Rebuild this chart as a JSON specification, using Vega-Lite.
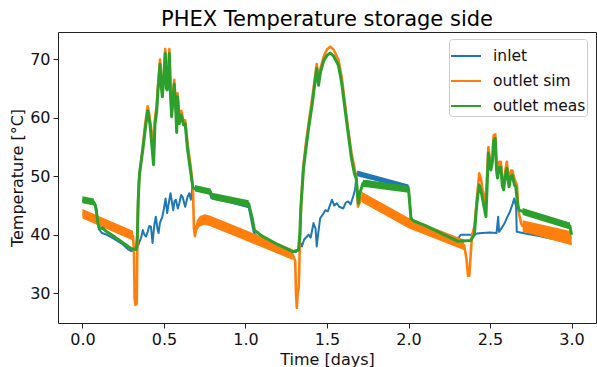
{
  "$schema": "https://vega.github.io/schema/vega-lite/v6.json",
  "width": 538,
  "height": 291,
  "autosize": {"type": "none"},
  "padding": {"left": 58, "top": 32, "right": 1, "bottom": 44},
  "background": "white",
  "title": {"text": "PHEX Temperature storage side", "fontSize": 21, "font": "DejaVu Sans", "fontWeight": "normal", "color": "black", "anchor": "middle", "frame": "group", "offset": 2},
  "datasets": {
    "lines": [
      {"s":"inlet","t":0.000,"v":45.7},{"s":"inlet","t":0.070,"v":45.4},{"s":"inlet","t":0.085,"v":44.5},{"s":"inlet","t":0.100,"v":41.0},{"s":"inlet","t":0.120,"v":40.3},{"s":"inlet","t":0.150,"v":40.0},{"s":"inlet","t":0.200,"v":39.2},{"s":"inlet","t":0.250,"v":38.3},{"s":"inlet","t":0.280,"v":37.5},{"s":"inlet","t":0.300,"v":37.2},{"s":"inlet","t":0.320,"v":37.3},{"s":"inlet","t":0.335,"v":37.6},{"s":"inlet","t":0.350,"v":38.8},{"s":"inlet","t":0.360,"v":39.5},{"s":"inlet","t":0.370,"v":40.8},{"s":"inlet","t":0.380,"v":40.0},{"s":"inlet","t":0.390,"v":39.7},{"s":"inlet","t":0.400,"v":40.5},{"s":"inlet","t":0.410,"v":41.5},{"s":"inlet","t":0.420,"v":41.4},{"s":"inlet","t":0.430,"v":38.6},{"s":"inlet","t":0.440,"v":41.5},{"s":"inlet","t":0.450,"v":43.1},{"s":"inlet","t":0.460,"v":41.0},{"s":"inlet","t":0.467,"v":40.3},{"s":"inlet","t":0.475,"v":42.0},{"s":"inlet","t":0.490,"v":43.1},{"s":"inlet","t":0.500,"v":44.5},{"s":"inlet","t":0.510,"v":46.2},{"s":"inlet","t":0.520,"v":43.7},{"s":"inlet","t":0.530,"v":45.5},{"s":"inlet","t":0.540,"v":47.1},{"s":"inlet","t":0.557,"v":44.2},{"s":"inlet","t":0.565,"v":45.8},{"s":"inlet","t":0.573,"v":46.0},{"s":"inlet","t":0.585,"v":44.5},{"s":"inlet","t":0.594,"v":45.4},{"s":"inlet","t":0.605,"v":46.8},{"s":"inlet","t":0.614,"v":46.5},{"s":"inlet","t":0.630,"v":44.8},{"s":"inlet","t":0.645,"v":46.5},{"s":"inlet","t":0.655,"v":47.1},{"s":"inlet","t":0.665,"v":46.0},{"s":"inlet","t":0.675,"v":48.2},{"s":"inlet","t":0.690,"v":47.8},{"s":"inlet","t":0.720,"v":47.6},{"s":"inlet","t":0.780,"v":47.2},{"s":"inlet","t":0.790,"v":46.3},{"s":"inlet","t":0.800,"v":46.2},{"s":"inlet","t":0.900,"v":45.6},{"s":"inlet","t":1.020,"v":44.7},{"s":"inlet","t":1.050,"v":40.5},{"s":"inlet","t":1.060,"v":40.0},{"s":"inlet","t":1.100,"v":39.3},{"s":"inlet","t":1.200,"v":38.1},{"s":"inlet","t":1.280,"v":37.0},{"s":"inlet","t":1.310,"v":37.1},{"s":"inlet","t":1.325,"v":37.5},{"s":"inlet","t":1.340,"v":38.5},{"s":"inlet","t":1.346,"v":38.0},{"s":"inlet","t":1.360,"v":39.2},{"s":"inlet","t":1.387,"v":40.0},{"s":"inlet","t":1.400,"v":39.5},{"s":"inlet","t":1.417,"v":42.0},{"s":"inlet","t":1.430,"v":41.0},{"s":"inlet","t":1.437,"v":38.0},{"s":"inlet","t":1.445,"v":40.0},{"s":"inlet","t":1.458,"v":42.8},{"s":"inlet","t":1.475,"v":43.5},{"s":"inlet","t":1.490,"v":44.2},{"s":"inlet","t":1.505,"v":44.0},{"s":"inlet","t":1.530,"v":46.0},{"s":"inlet","t":1.545,"v":45.0},{"s":"inlet","t":1.560,"v":45.4},{"s":"inlet","t":1.575,"v":44.8},{"s":"inlet","t":1.600,"v":44.5},{"s":"inlet","t":1.615,"v":45.5},{"s":"inlet","t":1.630,"v":45.7},{"s":"inlet","t":1.645,"v":45.2},{"s":"inlet","t":1.660,"v":46.5},{"s":"inlet","t":1.672,"v":47.7},{"s":"inlet","t":1.682,"v":50.5},{"s":"inlet","t":1.800,"v":49.5},{"s":"inlet","t":1.900,"v":48.8},{"s":"inlet","t":2.000,"v":48.2},{"s":"inlet","t":2.015,"v":43.0},{"s":"inlet","t":2.030,"v":42.3},{"s":"inlet","t":2.100,"v":41.3},{"s":"inlet","t":2.200,"v":40.2},{"s":"inlet","t":2.290,"v":39.3},{"s":"inlet","t":2.310,"v":39.6},{"s":"inlet","t":2.320,"v":40.0},{"s":"inlet","t":2.400,"v":40.0},{"s":"inlet","t":2.420,"v":40.2},{"s":"inlet","t":2.450,"v":40.3},{"s":"inlet","t":2.500,"v":40.4},{"s":"inlet","t":2.540,"v":40.3},{"s":"inlet","t":2.550,"v":43.1},{"s":"inlet","t":2.555,"v":40.5},{"s":"inlet","t":2.577,"v":41.4},{"s":"inlet","t":2.590,"v":42.0},{"s":"inlet","t":2.607,"v":43.1},{"s":"inlet","t":2.620,"v":43.8},{"s":"inlet","t":2.640,"v":45.4},{"s":"inlet","t":2.648,"v":46.2},{"s":"inlet","t":2.660,"v":44.8},{"s":"inlet","t":2.664,"v":40.5},{"s":"inlet","t":2.700,"v":40.3},{"s":"inlet","t":2.800,"v":39.8},{"s":"inlet","t":2.900,"v":39.2},{"s":"inlet","t":3.000,"v":38.5},

      {"s":"outlet sim","t":0.000,"v":43.6},{"s":"outlet sim","t":0.310,"v":39.8},{"s":"outlet sim","t":0.316,"v":37.0},{"s":"outlet sim","t":0.320,"v":29.0},{"s":"outlet sim","t":0.325,"v":28.0},{"s":"outlet sim","t":0.330,"v":30.5},{"s":"outlet sim","t":0.333,"v":28.2},{"s":"outlet sim","t":0.336,"v":36.5},{"s":"outlet sim","t":0.340,"v":44.0},{"s":"outlet sim","t":0.346,"v":49.0},{"s":"outlet sim","t":0.355,"v":51.5},{"s":"outlet sim","t":0.370,"v":55.0},{"s":"outlet sim","t":0.385,"v":59.0},{"s":"outlet sim","t":0.400,"v":62.0},{"s":"outlet sim","t":0.408,"v":61.0},{"s":"outlet sim","t":0.415,"v":59.5},{"s":"outlet sim","t":0.425,"v":57.5},{"s":"outlet sim","t":0.436,"v":53.5},{"s":"outlet sim","t":0.445,"v":60.0},{"s":"outlet sim","t":0.455,"v":62.0},{"s":"outlet sim","t":0.465,"v":66.0},{"s":"outlet sim","t":0.476,"v":70.0},{"s":"outlet sim","t":0.483,"v":66.5},{"s":"outlet sim","t":0.490,"v":64.5},{"s":"outlet sim","t":0.500,"v":68.0},{"s":"outlet sim","t":0.508,"v":71.8},{"s":"outlet sim","t":0.515,"v":66.0},{"s":"outlet sim","t":0.520,"v":65.5},{"s":"outlet sim","t":0.527,"v":68.0},{"s":"outlet sim","t":0.533,"v":71.8},{"s":"outlet sim","t":0.540,"v":65.0},{"s":"outlet sim","t":0.547,"v":61.0},{"s":"outlet sim","t":0.555,"v":64.0},{"s":"outlet sim","t":0.563,"v":66.5},{"s":"outlet sim","t":0.573,"v":62.0},{"s":"outlet sim","t":0.578,"v":58.3},{"s":"outlet sim","t":0.583,"v":64.2},{"s":"outlet sim","t":0.594,"v":60.0},{"s":"outlet sim","t":0.606,"v":61.2},{"s":"outlet sim","t":0.620,"v":59.5},{"s":"outlet sim","t":0.630,"v":59.6},{"s":"outlet sim","t":0.645,"v":55.5},{"s":"outlet sim","t":0.665,"v":51.5},{"s":"outlet sim","t":0.678,"v":47.5},{"s":"outlet sim","t":0.684,"v":41.0},{"s":"outlet sim","t":0.690,"v":39.8},{"s":"outlet sim","t":0.700,"v":41.5},{"s":"outlet sim","t":0.720,"v":42.3},{"s":"outlet sim","t":0.750,"v":42.6},{"s":"outlet sim","t":0.780,"v":42.4},{"s":"outlet sim","t":1.000,"v":39.9},{"s":"outlet sim","t":1.290,"v":36.6},{"s":"outlet sim","t":1.305,"v":35.5},{"s":"outlet sim","t":1.310,"v":30.0},{"s":"outlet sim","t":1.315,"v":27.5},{"s":"outlet sim","t":1.320,"v":30.0},{"s":"outlet sim","t":1.327,"v":31.0},{"s":"outlet sim","t":1.333,"v":38.0},{"s":"outlet sim","t":1.340,"v":44.0},{"s":"outlet sim","t":1.348,"v":49.0},{"s":"outlet sim","t":1.356,"v":52.0},{"s":"outlet sim","t":1.370,"v":55.5},{"s":"outlet sim","t":1.387,"v":59.0},{"s":"outlet sim","t":1.410,"v":63.5},{"s":"outlet sim","t":1.437,"v":69.2},{"s":"outlet sim","t":1.448,"v":66.5},{"s":"outlet sim","t":1.460,"v":68.5},{"s":"outlet sim","t":1.480,"v":70.5},{"s":"outlet sim","t":1.500,"v":71.7},{"s":"outlet sim","t":1.520,"v":72.2},{"s":"outlet sim","t":1.540,"v":71.7},{"s":"outlet sim","t":1.570,"v":70.0},{"s":"outlet sim","t":1.590,"v":67.0},{"s":"outlet sim","t":1.610,"v":62.5},{"s":"outlet sim","t":1.630,"v":58.0},{"s":"outlet sim","t":1.650,"v":54.0},{"s":"outlet sim","t":1.668,"v":51.5},{"s":"outlet sim","t":1.680,"v":49.5},{"s":"outlet sim","t":1.690,"v":44.8},{"s":"outlet sim","t":1.700,"v":45.5},{"s":"outlet sim","t":1.710,"v":46.5},{"s":"outlet sim","t":2.000,"v":42.0},{"s":"outlet sim","t":2.300,"v":38.7},{"s":"outlet sim","t":2.340,"v":38.3},{"s":"outlet sim","t":2.355,"v":36.0},{"s":"outlet sim","t":2.365,"v":33.0},{"s":"outlet sim","t":2.373,"v":33.0},{"s":"outlet sim","t":2.380,"v":36.0},{"s":"outlet sim","t":2.390,"v":40.0},{"s":"outlet sim","t":2.405,"v":41.5},{"s":"outlet sim","t":2.420,"v":46.5},{"s":"outlet sim","t":2.434,"v":50.5},{"s":"outlet sim","t":2.445,"v":49.5},{"s":"outlet sim","t":2.455,"v":47.5},{"s":"outlet sim","t":2.470,"v":45.5},{"s":"outlet sim","t":2.480,"v":49.0},{"s":"outlet sim","t":2.490,"v":55.0},{"s":"outlet sim","t":2.500,"v":52.5},{"s":"outlet sim","t":2.505,"v":51.5},{"s":"outlet sim","t":2.515,"v":53.0},{"s":"outlet sim","t":2.522,"v":57.0},{"s":"outlet sim","t":2.532,"v":57.2},{"s":"outlet sim","t":2.540,"v":52.0},{"s":"outlet sim","t":2.546,"v":50.5},{"s":"outlet sim","t":2.556,"v":52.5},{"s":"outlet sim","t":2.566,"v":52.5},{"s":"outlet sim","t":2.575,"v":49.5},{"s":"outlet sim","t":2.583,"v":48.5},{"s":"outlet sim","t":2.594,"v":51.0},{"s":"outlet sim","t":2.603,"v":52.5},{"s":"outlet sim","t":2.610,"v":50.5},{"s":"outlet sim","t":2.617,"v":49.0},{"s":"outlet sim","t":2.628,"v":51.0},{"s":"outlet sim","t":2.637,"v":51.0},{"s":"outlet sim","t":2.650,"v":49.5},{"s":"outlet sim","t":2.665,"v":48.5},{"s":"outlet sim","t":2.675,"v":44.0},{"s":"outlet sim","t":2.690,"v":42.0},{"s":"outlet sim","t":2.700,"v":41.5},{"s":"outlet sim","t":3.000,"v":39.4},

      {"s":"outlet meas","t":0.000,"v":46.0},{"s":"outlet meas","t":0.070,"v":45.6},{"s":"outlet meas","t":0.080,"v":45.0},{"s":"outlet meas","t":0.095,"v":42.0},{"s":"outlet meas","t":0.105,"v":41.0},{"s":"outlet meas","t":0.120,"v":41.2},{"s":"outlet meas","t":0.150,"v":40.5},{"s":"outlet meas","t":0.200,"v":39.6},{"s":"outlet meas","t":0.250,"v":38.6},{"s":"outlet meas","t":0.300,"v":37.6},{"s":"outlet meas","t":0.330,"v":37.5},{"s":"outlet meas","t":0.337,"v":40.0},{"s":"outlet meas","t":0.342,"v":46.0},{"s":"outlet meas","t":0.350,"v":50.5},{"s":"outlet meas","t":0.370,"v":54.5},{"s":"outlet meas","t":0.385,"v":58.0},{"s":"outlet meas","t":0.400,"v":61.2},{"s":"outlet meas","t":0.408,"v":60.0},{"s":"outlet meas","t":0.415,"v":58.7},{"s":"outlet meas","t":0.425,"v":55.5},{"s":"outlet meas","t":0.436,"v":52.0},{"s":"outlet meas","t":0.445,"v":59.0},{"s":"outlet meas","t":0.455,"v":61.0},{"s":"outlet meas","t":0.465,"v":65.5},{"s":"outlet meas","t":0.476,"v":69.2},{"s":"outlet meas","t":0.483,"v":65.5},{"s":"outlet meas","t":0.490,"v":63.6},{"s":"outlet meas","t":0.500,"v":67.5},{"s":"outlet meas","t":0.508,"v":71.0},{"s":"outlet meas","t":0.515,"v":65.0},{"s":"outlet meas","t":0.520,"v":64.8},{"s":"outlet meas","t":0.527,"v":67.5},{"s":"outlet meas","t":0.533,"v":71.0},{"s":"outlet meas","t":0.540,"v":64.0},{"s":"outlet meas","t":0.547,"v":60.2},{"s":"outlet meas","t":0.555,"v":63.0},{"s":"outlet meas","t":0.563,"v":65.8},{"s":"outlet meas","t":0.573,"v":61.0},{"s":"outlet meas","t":0.578,"v":57.5},{"s":"outlet meas","t":0.583,"v":63.6},{"s":"outlet meas","t":0.594,"v":59.0},{"s":"outlet meas","t":0.606,"v":60.5},{"s":"outlet meas","t":0.620,"v":58.8},{"s":"outlet meas","t":0.630,"v":59.0},{"s":"outlet meas","t":0.645,"v":54.5},{"s":"outlet meas","t":0.665,"v":50.5},{"s":"outlet meas","t":0.678,"v":48.0},{"s":"outlet meas","t":0.720,"v":47.8},{"s":"outlet meas","t":0.785,"v":47.3},{"s":"outlet meas","t":0.795,"v":46.6},{"s":"outlet meas","t":0.820,"v":46.5},{"s":"outlet meas","t":1.020,"v":45.3},{"s":"outlet meas","t":1.040,"v":43.0},{"s":"outlet meas","t":1.055,"v":40.8},{"s":"outlet meas","t":1.100,"v":39.8},{"s":"outlet meas","t":1.200,"v":38.3},{"s":"outlet meas","t":1.290,"v":37.1},{"s":"outlet meas","t":1.325,"v":37.4},{"s":"outlet meas","t":1.333,"v":40.0},{"s":"outlet meas","t":1.340,"v":45.0},{"s":"outlet meas","t":1.348,"v":48.0},{"s":"outlet meas","t":1.356,"v":51.4},{"s":"outlet meas","t":1.370,"v":54.5},{"s":"outlet meas","t":1.387,"v":58.2},{"s":"outlet meas","t":1.410,"v":62.5},{"s":"outlet meas","t":1.437,"v":68.5},{"s":"outlet meas","t":1.448,"v":65.6},{"s":"outlet meas","t":1.460,"v":67.8},{"s":"outlet meas","t":1.480,"v":69.8},{"s":"outlet meas","t":1.500,"v":70.7},{"s":"outlet meas","t":1.520,"v":71.1},{"s":"outlet meas","t":1.540,"v":70.6},{"s":"outlet meas","t":1.570,"v":69.0},{"s":"outlet meas","t":1.590,"v":66.0},{"s":"outlet meas","t":1.610,"v":61.6},{"s":"outlet meas","t":1.630,"v":57.3},{"s":"outlet meas","t":1.650,"v":53.1},{"s":"outlet meas","t":1.668,"v":50.5},{"s":"outlet meas","t":1.680,"v":49.5},{"s":"outlet meas","t":1.692,"v":45.4},{"s":"outlet meas","t":1.700,"v":47.0},{"s":"outlet meas","t":1.720,"v":48.8},{"s":"outlet meas","t":1.743,"v":49.1},{"s":"outlet meas","t":2.000,"v":47.8},{"s":"outlet meas","t":2.015,"v":42.8},{"s":"outlet meas","t":2.030,"v":42.4},{"s":"outlet meas","t":2.100,"v":41.6},{"s":"outlet meas","t":2.300,"v":38.9},{"s":"outlet meas","t":2.380,"v":39.0},{"s":"outlet meas","t":2.404,"v":40.0},{"s":"outlet meas","t":2.415,"v":44.0},{"s":"outlet meas","t":2.424,"v":46.5},{"s":"outlet meas","t":2.434,"v":48.5},{"s":"outlet meas","t":2.445,"v":47.5},{"s":"outlet meas","t":2.455,"v":46.0},{"s":"outlet meas","t":2.475,"v":43.1},{"s":"outlet meas","t":2.490,"v":54.0},{"s":"outlet meas","t":2.505,"v":51.1},{"s":"outlet meas","t":2.515,"v":52.5},{"s":"outlet meas","t":2.522,"v":56.0},{"s":"outlet meas","t":2.532,"v":56.5},{"s":"outlet meas","t":2.540,"v":51.0},{"s":"outlet meas","t":2.546,"v":49.7},{"s":"outlet meas","t":2.556,"v":51.5},{"s":"outlet meas","t":2.566,"v":51.6},{"s":"outlet meas","t":2.575,"v":48.5},{"s":"outlet meas","t":2.583,"v":47.7},{"s":"outlet meas","t":2.594,"v":50.0},{"s":"outlet meas","t":2.603,"v":51.4},{"s":"outlet meas","t":2.610,"v":49.5},{"s":"outlet meas","t":2.617,"v":48.2},{"s":"outlet meas","t":2.628,"v":50.0},{"s":"outlet meas","t":2.637,"v":50.2},{"s":"outlet meas","t":2.650,"v":48.5},{"s":"outlet meas","t":2.658,"v":48.2},{"s":"outlet meas","t":2.670,"v":45.0},{"s":"outlet meas","t":2.679,"v":44.2},{"s":"outlet meas","t":2.700,"v":44.0},{"s":"outlet meas","t":2.990,"v":41.5},{"s":"outlet meas","t":3.000,"v":40.0}
    ],
    "bands": [
      {"s":"inlet","g":"b1","t":1.685,"lo":50.0,"hi":51.0},{"s":"inlet","g":"b1","t":2.000,"lo":47.8,"hi":48.6},
      {"s":"outlet sim","g":"o1","t":0.000,"lo":42.8,"hi":44.4},{"s":"outlet sim","g":"o1","t":0.310,"lo":39.0,"hi":40.7},
      {"s":"outlet sim","g":"o2","t":0.690,"lo":39.2,"hi":40.4},{"s":"outlet sim","g":"o2","t":0.700,"lo":40.6,"hi":42.4},{"s":"outlet sim","g":"o2","t":0.720,"lo":41.4,"hi":43.2},{"s":"outlet sim","g":"o2","t":0.750,"lo":41.7,"hi":43.5},{"s":"outlet sim","g":"o2","t":0.780,"lo":41.5,"hi":43.3},{"s":"outlet sim","g":"o2","t":1.000,"lo":39.0,"hi":40.8},{"s":"outlet sim","g":"o2","t":1.290,"lo":35.7,"hi":37.5},
      {"s":"outlet sim","g":"o3","t":1.710,"lo":45.6,"hi":47.4},{"s":"outlet sim","g":"o3","t":2.000,"lo":41.1,"hi":42.9},{"s":"outlet sim","g":"o3","t":2.300,"lo":37.8,"hi":39.6},{"s":"outlet sim","g":"o3","t":2.340,"lo":37.4,"hi":39.2},
      {"s":"outlet sim","g":"o4","t":2.700,"lo":40.5,"hi":42.5},{"s":"outlet sim","g":"o4","t":3.000,"lo":38.2,"hi":40.6},
      {"s":"outlet meas","g":"g1","t":0.000,"lo":45.4,"hi":46.6},{"s":"outlet meas","g":"g1","t":0.070,"lo":45.0,"hi":46.2},
      {"s":"outlet meas","g":"g3","t":0.690,"lo":47.4,"hi":48.5},{"s":"outlet meas","g":"g3","t":0.785,"lo":46.8,"hi":47.9},{"s":"outlet meas","g":"g3","t":0.795,"lo":46.0,"hi":47.2},{"s":"outlet meas","g":"g3","t":1.020,"lo":44.7,"hi":45.9},
      {"s":"outlet meas","g":"g4","t":1.720,"lo":48.2,"hi":49.4},{"s":"outlet meas","g":"g4","t":2.000,"lo":47.2,"hi":48.4},
      {"s":"outlet meas","g":"g5","t":2.700,"lo":43.4,"hi":44.6},{"s":"outlet meas","g":"g5","t":2.990,"lo":40.9,"hi":42.1}
    ]
  },
  "encoding": {
    "x": {"field": "t", "type": "quantitative", "scale": {"domain": [-0.15, 3.15], "nice": false, "zero": false},
      "axis": {"title": "Time [days]", "values": [0, 0.5, 1, 1.5, 2, 2.5, 3], "format": ".1f"}}
  },
  "layer": [
    {"data": {"name": "bands"}, "transform": [{"filter": "datum.s === 'inlet'"}],
     "mark": {"type": "area", "color": "#1f77b4", "opacity": 1},
     "encoding": {"y": {"field": "lo", "type": "quantitative", "stack": null, "scale": {"domain": [24.9, 74.7], "nice": false, "zero": false}, "axis": {"title": "Temperature [°C]", "values": [30, 40, 50, 60, 70]}}, "y2": {"field": "hi"}, "detail": {"field": "g"}}},
    {"data": {"name": "lines"}, "transform": [{"filter": "datum.s === 'inlet'"}],
     "mark": {"type": "line", "strokeWidth": 2, "strokeJoin": "round"},
     "encoding": {"y": {"field": "v", "type": "quantitative", "scale": {"domain": [24.9, 74.7], "nice": false, "zero": false}, "axis": {"title": "Temperature [°C]", "values": [30, 40, 50, 60, 70]}},
       "color": {"field": "s", "type": "nominal", "scale": {"domain": ["inlet", "outlet sim", "outlet meas"], "range": ["#1f77b4", "#ff7f0e", "#2ca02c"]}, "legend": {"title": null, "orient": "none", "legendX": 391, "legendY": 7}}}},
    {"data": {"name": "bands"}, "transform": [{"filter": "datum.s === 'outlet sim'"}],
     "mark": {"type": "area", "color": "#ff7f0e", "opacity": 1},
     "encoding": {"y": {"field": "lo", "type": "quantitative", "stack": null, "scale": {"domain": [24.9, 74.7], "nice": false, "zero": false}, "axis": {"title": "Temperature [°C]", "values": [30, 40, 50, 60, 70]}}, "y2": {"field": "hi"}, "detail": {"field": "g"}}},
    {"data": {"name": "lines"}, "transform": [{"filter": "datum.s === 'outlet sim'"}],
     "mark": {"type": "line", "strokeWidth": 2.6, "strokeJoin": "round"},
     "encoding": {"y": {"field": "v", "type": "quantitative", "scale": {"domain": [24.9, 74.7], "nice": false, "zero": false}, "axis": {"title": "Temperature [°C]", "values": [30, 40, 50, 60, 70]}},
       "color": {"field": "s", "type": "nominal", "scale": {"domain": ["inlet", "outlet sim", "outlet meas"], "range": ["#1f77b4", "#ff7f0e", "#2ca02c"]}, "legend": {"title": null, "orient": "none", "legendX": 391, "legendY": 7}}}},
    {"data": {"name": "bands"}, "transform": [{"filter": "datum.s === 'outlet meas'"}],
     "mark": {"type": "area", "color": "#2ca02c", "opacity": 1},
     "encoding": {"y": {"field": "lo", "type": "quantitative", "stack": null, "scale": {"domain": [24.9, 74.7], "nice": false, "zero": false}, "axis": {"title": "Temperature [°C]", "values": [30, 40, 50, 60, 70]}}, "y2": {"field": "hi"}, "detail": {"field": "g"}}},
    {"data": {"name": "lines"}, "transform": [{"filter": "datum.s === 'outlet meas'"}],
     "mark": {"type": "line", "strokeWidth": 3, "strokeJoin": "round"},
     "encoding": {"y": {"field": "v", "type": "quantitative", "scale": {"domain": [24.9, 74.7], "nice": false, "zero": false}, "axis": {"title": "Temperature [°C]", "values": [30, 40, 50, 60, 70]}},
       "color": {"field": "s", "type": "nominal", "scale": {"domain": ["inlet", "outlet sim", "outlet meas"], "range": ["#1f77b4", "#ff7f0e", "#2ca02c"]}, "legend": {"title": null, "orient": "none", "legendX": 391, "legendY": 7}}}}
  ],
  "config": {
    "font": "DejaVu Sans",
    "view": {"stroke": "#222222", "strokeWidth": 1},
    "axis": {"grid": false, "domain": false, "tickColor": "#222222", "tickSize": 5, "tickWidth": 1, "labelFont": "DejaVu Sans", "labelFontSize": 16, "labelColor": "#111111", "labelPadding": 3, "titleFont": "DejaVu Sans", "titleFontSize": 16, "titleFontWeight": "normal", "titleColor": "#111111", "titlePadding": 4},
    "legend": {"symbolType": "stroke", "symbolSize": 900, "symbolStrokeWidth": 2, "labelFont": "DejaVu Sans", "labelFontSize": 15.5, "labelColor": "#111111", "labelOffset": 11, "padding": 1, "strokeColor": "#cccccc", "fillColor": "white", "cornerRadius": 3, "rowPadding": -2}
  }
}
